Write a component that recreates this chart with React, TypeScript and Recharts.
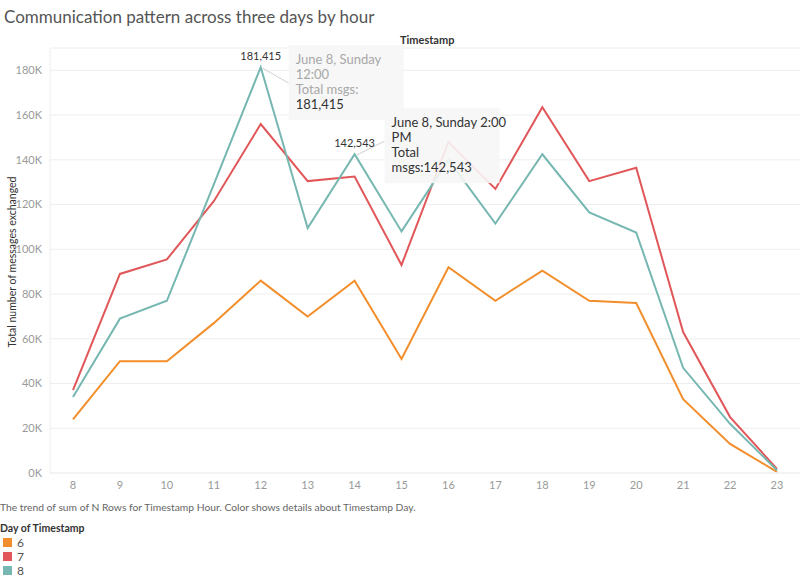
import React from 'react';
import { LineChart, Line, XAxis, YAxis, CartesianGrid } from 'recharts';

const hours = ['8', '9', '10', '11', '12', '13', '14', '15', '16', '17', '18', '19', '20', '21', '22', '23'];
const day6 = [24000, 50000, 50000, 67000, 86000, 70000, 86000, 51000, 92000, 77000, 90500, 77000, 76000, 33000, 13000, 500];
const day7 = [37000, 89000, 95500, 121500, 156000, 130500, 132500, 93000, 148000, 127000, 163500, 130500, 136500, 63000, 25000, 1800];
const day8 = [34000, 69000, 77000, 129000, 181415, 109500, 142543, 108000, 140000, 111500, 142500, 116500, 107500, 47000, 22000, 1200];
const yTicks = [0, 20000, 40000, 60000, 80000, 100000, 120000, 140000, 160000, 180000];

const legendItems = [
  { name: '6', color: '#F28E2B' },
  { name: '7', color: '#E15759' },
  { name: '8', color: '#76B7B2' },
];

const data = hours.map((h, i) => ({ hour: h, d6: day6[i], d7: day7[i], d8: day8[i] }));

const FONT = 'Lato, "Open Sans", sans-serif';

const fmtK = (v: number) => `${Math.round(v / 1000)}K`;
const fmtNum = (v: number) => v.toLocaleString('en-US');

const annotations: Record<number, { lines: string[]; faded: boolean }> = {
  4: { lines: ['June 8, Sunday', '12:00', 'Total msgs:', ''], faded: true },
  6: { lines: ['June 8, Sunday 2:00', 'PM', 'Total', ''], faded: false },
};

const TealLabel = (props: any) => {
  const { x, y, index, value } = props;
  const ann = annotations[index];
  if (!ann || x == null || y == null) return null;
  const lines = [...ann.lines];
  if (ann.faded) lines[3] = fmtNum(value);
  else lines[3] = 'msgs:' + fmtNum(value);
  const bx = ann.faded ? x + 28 : x + 30;
  const by = ann.faded ? y - 22 : y - 46;
  const bw = 115;
  const bh = 75;
  return (
    <g>
      <line x1={x + 2} y1={y + 1} x2={bx} y2={ann.faded ? by + 38 : by + 33} stroke="#d0d0d0" strokeWidth={1} />
      <text x={x} y={y - 7} textAnchor="middle" fontSize={11} fill="#333" fontFamily={FONT}>
        {fmtNum(value)}
      </text>
      <rect x={bx} y={by} width={bw} height={bh} fill="#f6f6f6" fillOpacity={0.9} />
      {lines.map((l, i) => (
        <text
          key={i}
          x={bx + 7}
          y={by + 19 + i * 15}
          fontSize={13}
          fontFamily={FONT}
          fill={ann.faded ? (i === 3 ? '#333' : '#a8a8a8') : '#333'}
        >
          {l}
        </text>
      ))}
    </g>
  );
};

export default function App() {
  return (
    <div style={{ position: 'absolute', left: 0, top: 0, width: 800, height: 576, background: '#fff', fontFamily: FONT }}>
      <div style={{ position: 'absolute', left: 4, top: 6, fontSize: 17, color: '#555', whiteSpace: 'nowrap' }}>
        Communication pattern across three days by hour
      </div>
      <div style={{ position: 'absolute', left: 400, top: 33, fontSize: 11, fontWeight: 700, color: '#333' }}>
        Timestamp
      </div>
      <div
        style={{
          position: 'absolute',
          left: 12,
          top: 262,
          transform: 'translate(-50%, -50%) rotate(-90deg)',
          fontSize: 10.5,
          color: '#333',
          whiteSpace: 'nowrap',
        }}
      >
        Total number of messages exchanged
      </div>
      <div style={{ position: 'absolute', left: 0, top: 0 }}>
        <LineChart width={800} height={500} data={data} margin={{ top: 48, right: 0, bottom: 7, left: 0 }}>
          <CartesianGrid vertical={false} stroke="#eeeeee" />
          <XAxis
            dataKey="hour"
            height={20}
            padding={{ left: 23, right: 23 }}
            interval={0}
            tick={{ fontSize: 11, fill: '#999', fontFamily: FONT }}
            tickLine={false}
            axisLine={{ stroke: '#eeeeee' }}
          />
          <YAxis
            width={50}
            domain={[0, 190000]}
            ticks={yTicks}
            tickFormatter={fmtK}
            tick={{ fontSize: 11, fill: '#999', fontFamily: FONT }}
            tickLine={false}
            axisLine={{ stroke: '#eeeeee' }}
          />
          <Line dataKey="d6" stroke="#F28E2B" strokeWidth={2} dot={false} isAnimationActive={false} />
          <Line dataKey="d7" stroke="#E15759" strokeWidth={2} dot={false} isAnimationActive={false} />
          <Line dataKey="d8" stroke="#76B7B2" strokeWidth={2} dot={false} isAnimationActive={false} label={TealLabel} />
        </LineChart>
      </div>
      <div style={{ position: 'absolute', left: 0, top: 501, fontSize: 10.3, color: '#666', whiteSpace: 'nowrap' }}>
        The trend of sum of N Rows for Timestamp Hour.  Color shows details about Timestamp Day.
      </div>
      <div style={{ position: 'absolute', left: 0, top: 522, fontSize: 10.5, fontWeight: 700, color: '#333' }}>
        Day of Timestamp
      </div>
      {legendItems.map((it, i) => (
        <div key={it.name} style={{ position: 'absolute', left: 3, top: 536 + i * 14, height: 12, display: 'flex', alignItems: 'center' }}>
          <div style={{ width: 9, height: 9, background: it.color, marginRight: 5 }} />
          <span style={{ fontSize: 12, color: '#555' }}>{it.name}</span>
        </div>
      ))}
    </div>
  );
}
